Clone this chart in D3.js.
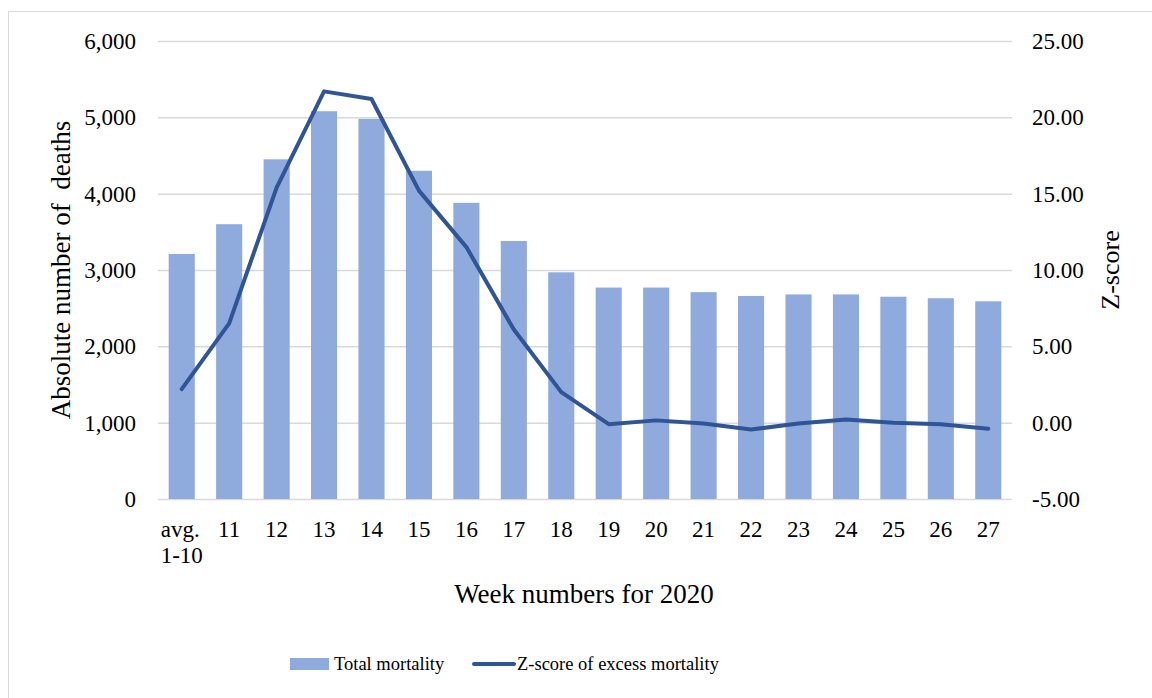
<!DOCTYPE html>
<html>
<head>
<meta charset="utf-8">
<script src="https://cdn.jsdelivr.net/npm/d3@7"></script>
</head>
<body style="margin:0;background:#fff">
<svg id="chart" width="1152" height="698"></svg>
<script>
const categories = ["avg.\n1-10", "11", "12", "13", "14", "15", "16", "17", "18", "19", "20", "21", "22", "23", "24", "25", "26", "27"];
const totalMortality = [3210, 3600, 4450, 5080, 4980, 4300, 3880, 3380, 2970, 2770, 2770, 2710, 2660, 2680, 2680, 2650, 2630, 2590];
const zScores = [2.2, 6.5, 15.4, 21.7, 21.2, 15.2, 11.5, 6.1, 2.0, -0.1, 0.15, -0.05, -0.45, -0.05, 0.2, 0.0, -0.1, -0.4];
const leftTicks = [0, 1000, 2000, 3000, 4000, 5000, 6000];
const rightTicks = [-5, 0, 5, 10, 15, 20, 25];

const FONT = "Liberation Serif";
const svg = d3.select("#chart");
const m = { left: 158, right: 1012, top: 41, bottom: 499 };
const locale = d3.formatLocale({ decimal: ".", thousands: ",", grouping: [3], currency: ["$", ""], minus: "-" });

// outer border
svg.append("rect").attr("x", 8.5).attr("y", 11.5).attr("width", 1150).attr("height", 690)
  .attr("fill", "none").attr("stroke", "#d9d9d9").attr("stroke-width", 1);

const x = d3.scaleBand().domain(categories).range([m.left, m.right]).paddingInner(0.45).paddingOuter(0.225);
const yL = d3.scaleLinear().domain([0, 6000]).range([m.bottom, m.top]);
const yR = d3.scaleLinear().domain([-5, 25]).range([m.bottom, m.top]);

// gridlines
svg.append("g").selectAll("line").data(leftTicks).join("line")
  .attr("x1", m.left).attr("x2", m.right)
  .attr("y1", d => yL(d) + 0.5).attr("y2", d => yL(d) + 0.5)
  .attr("stroke", "#d9d9d9").attr("stroke-width", 1.5);

// left axis
const gL = svg.append("g").attr("transform", `translate(${m.left},0)`)
  .call(d3.axisLeft(yL).tickValues(leftTicks).tickFormat(locale.format(",")).tickSize(0).tickPadding(22));
gL.attr("font-family", FONT).attr("font-size", 23);
gL.select(".domain").remove();
gL.selectAll("text").attr("fill", "#000").attr("font-family", FONT);

// right axis
const gR = svg.append("g").attr("transform", `translate(${m.right},0)`)
  .call(d3.axisRight(yR).tickValues(rightTicks).tickFormat(locale.format(".2f")).tickSize(0).tickPadding(20));
gR.attr("font-family", FONT).attr("font-size", 23);
gR.select(".domain").remove();
gR.selectAll("text").attr("fill", "#000").attr("font-family", FONT);

// bars
svg.append("g").selectAll("rect").data(totalMortality).join("rect")
  .attr("x", (d, i) => x(categories[i]))
  .attr("width", x.bandwidth())
  .attr("y", d => yL(d))
  .attr("height", d => yL(0) - yL(d))
  .attr("fill", "#8faadc");

// x axis labels
const gX = svg.append("g").attr("transform", `translate(0,${m.bottom})`)
  .call(d3.axisBottom(x).tickSize(0).tickFormat(""));
gX.attr("font-family", FONT).attr("font-size", 23);
gX.select(".domain").remove();
gX.selectAll(".tick text").remove();
gX.selectAll(".tick").each(function(d) {
  const lines = d.split("\n");
  const multi = lines.length > 1;
  const t = d3.select(this).append("text").attr("fill", "#000").attr("font-size", 23)
    .attr("font-family", FONT).attr("text-anchor", multi ? "start" : "middle");
  lines.forEach((l, k) => t.append("tspan").attr("x", multi ? -x.bandwidth() / 2 - 8 : 0).attr("y", 38 + k * 26).text(l));
});

// line
const line = d3.line().x((d, i) => x(categories[i]) + x.bandwidth() / 2).y(d => yR(d));
svg.append("path").datum(zScores).attr("d", line)
  .attr("fill", "none").attr("stroke", "#2f5597").attr("stroke-width", 4)
  .attr("stroke-linejoin", "round").attr("stroke-linecap", "round");

// axis titles
svg.append("text").attr("transform", "translate(70,270) rotate(-90)")
  .attr("text-anchor", "middle").attr("font-size", 27).attr("fill", "#000")
  .attr("font-family", FONT).attr("xml:space", "preserve")
  .text("Absolute number of  deaths");
svg.append("text").attr("transform", "translate(1119,270) rotate(-90)")
  .attr("text-anchor", "middle").attr("font-size", 26).attr("fill", "#000")
  .attr("font-family", FONT).text("Z-score");
svg.append("text").attr("x", 584).attr("y", 603).attr("text-anchor", "middle")
  .attr("font-size", 27).attr("fill", "#000").attr("font-family", FONT).text("Week numbers for 2020");

// legend
const lg = svg.append("g");
lg.append("rect").attr("x", 290).attr("y", 658).attr("width", 39).attr("height", 12).attr("fill", "#8faadc");
lg.append("text").attr("x", 334).attr("y", 670).attr("font-size", 18.5).attr("fill", "#000").attr("font-family", FONT).text("Total mortality");
lg.append("line").attr("x1", 474).attr("x2", 514).attr("y1", 664).attr("y2", 664)
  .attr("stroke", "#2f5597").attr("stroke-width", 4).attr("stroke-linecap", "round");
lg.append("text").attr("x", 517).attr("y", 670).attr("font-size", 18.5).attr("fill", "#000").attr("font-family", FONT).text("Z-score of excess mortality");
</script>
</body>
</html>
